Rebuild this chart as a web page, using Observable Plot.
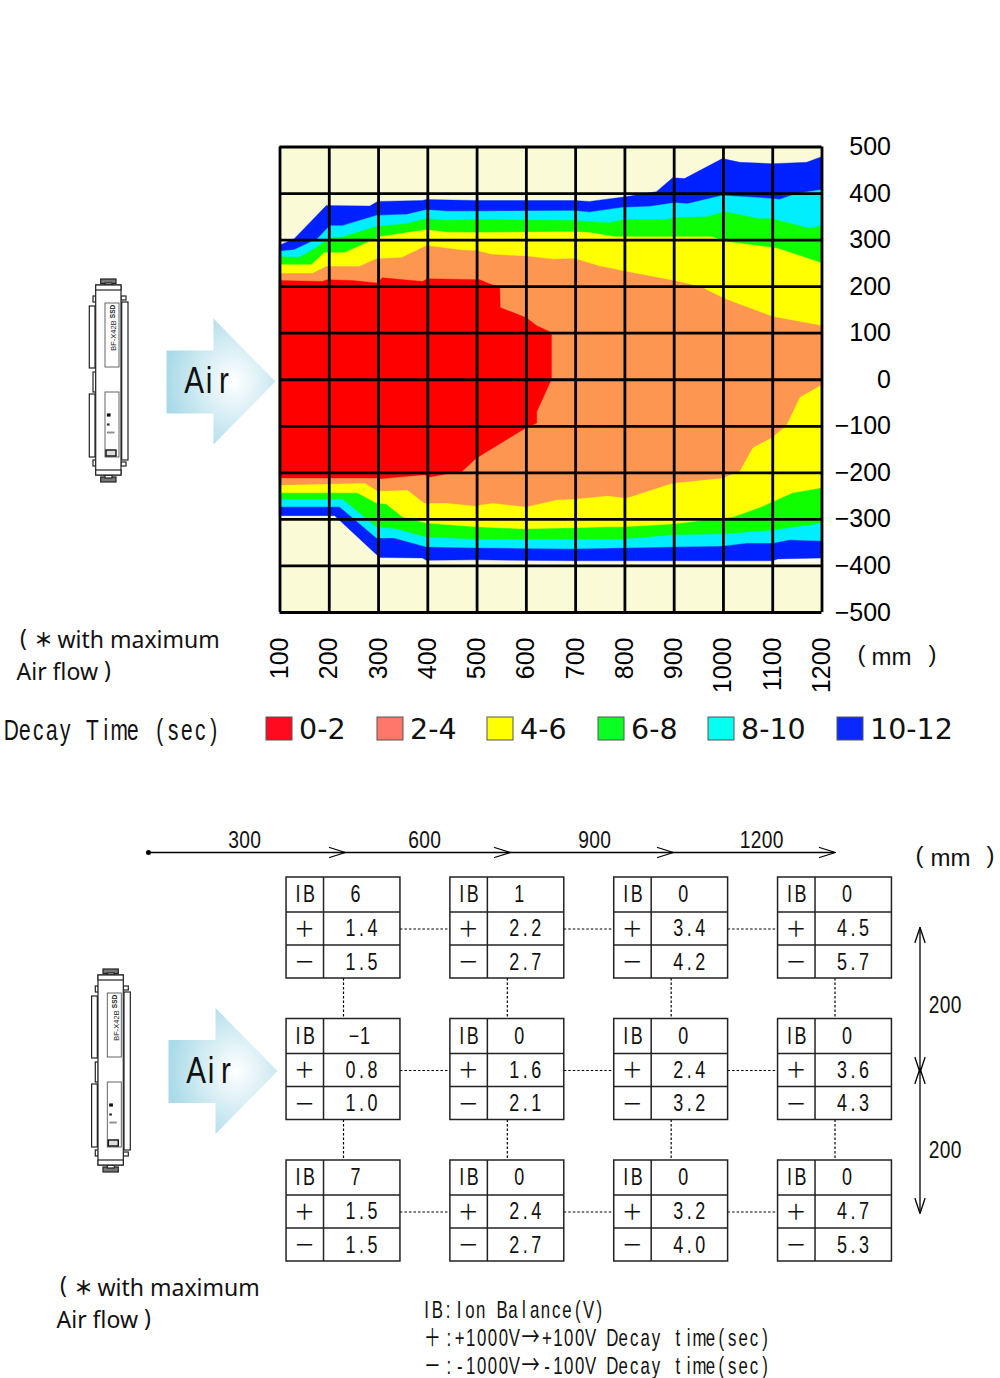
<!DOCTYPE html>
<html><head><meta charset="utf-8">
<script src="https://cdn.jsdelivr.net/npm/d3@7"></script>
<script src="https://cdn.jsdelivr.net/npm/@observablehq/plot@0.6"></script>
<style>
html,body{margin:0;padding:0;background:#fff}
#page{position:relative;width:1000px;height:1378px;overflow:hidden}
#page svg{position:absolute;left:0;top:0;background:none;overflow:visible;max-width:none}
</style></head><body><div id="page"></div>
<script>
// ---------- Contour boundaries: x in mm, y in mm ----------
const xTicks = [100,200,300,400,500,600,700,800,900,1000,1100,1200];
const yTicks = [500,400,300,200,100,0,-100,-200,-300,-400,-500];

const blueTopX = [100,130,195,283,299,390,398,500,699,729,802,865,898,922,999,1034,1101,1170,1200];
const blueTopY = [288,302,373,372,382,384,386,384,384,382,392,403,433,431,474,466,463,466,478];
const cyanTopX = [100,130,177,202,228,297,358,398,439,500,699,729,796,851,902,928,999,1101,1115,1150,1200];
const cyanTopY = [275,278,302,330,330,352,354,364,361,361,362,359,369,371,379,377,395,388,386,399,407];
const greenTopX = [100,141,175,202,226,297,358,398,439,500,699,750,770,800,885,902,969,1003,1074,1099,1176,1200];
const greenTopY = [263,262,283,304,305,328,334,345,341,343,341,337,336,343,343,347,349,360,345,345,324,330];
const yellowTopX = [100,165,191,232,283,303,398,439,500,699,729,780,977,1003,1099,1111,1200];
const yellowTopY = [246,246,272,272,296,306,321,316,315,317,315,306,306,296,283,281,250];
const orangeTopX = [100,167,195,262,297,348,398,471,500,530,601,654,699,750,800,898,953,1003,1101,1200];
const orangeTopY = [227,227,242,242,259,261,287,277,276,268,264,258,259,243,232,212,199,173,134,115];
const redTopX = [100,187,197,248,297,309,390,400,506,526,547,548,601,622,644,652,652];
const redTopY = [212,210,214,212,207,218,210,216,214,205,197,154,132,115,104,100,0];

const redLowX = [100,297,303,394,405,471,500,593,622,622,652];
const redLowY = [-212,-212,-214,-205,-210,-197,-169,-109,-94,-70,0];
const orangeLowX = [100,273,299,360,394,439,496,532,601,662,699,766,804,898,999,1034,1060,1101,1129,1156,1200];
const orangeLowY = [-227,-223,-240,-238,-266,-266,-272,-266,-274,-259,-257,-250,-255,-223,-212,-197,-147,-124,-98,-38,-12];
const yellowLowX = [100,258,297,317,350,398,500,593,699,764,796,898,979,1020,1078,1141,1200];
const yellowLowY = [-244,-244,-266,-268,-296,-309,-317,-321,-319,-317,-317,-311,-300,-296,-274,-244,-233];
const greenLowX = [100,228,297,337,398,500,796,898,999,1048,1101,1200];
const greenLowY = [-257,-257,-317,-321,-339,-343,-343,-334,-332,-328,-324,-309];
const cyanLowX = [100,222,297,333,398,500,689,800,898,999,1048,1101,1135,1200];
const cyanLowY = [-274,-274,-341,-341,-360,-362,-364,-362,-360,-358,-352,-352,-345,-347];
const blueLowX = [100,212,297,303,390,398,500,699,1101,1111,1200];
const blueLowY = [-293,-293,-377,-383,-384,-389,-388,-390,-390,-386,-384];
const haloLowX = [297,303,398,400,1100,1111,1200];
const haloLowY = [-377,-388,-389,-389,-391,-393,-392];
const haloTopX = [100,130];
const haloTopY = [296,312];

const colors = {cream:"#FAFBD6",blue:"#0021FF",cyan:"#00EEFF",green:"#10FF00",yellow:"#FFFF00",orange:"#FD9650",red:"#FF0000"};

// painter's order: each boundary fills toward the centre line
const layers = [
  [blueTopX,blueTopY,colors.blue],[blueLowX,blueLowY,colors.blue],
  [cyanTopX,cyanTopY,colors.cyan],[cyanLowX,cyanLowY,colors.cyan],
  [greenTopX,greenTopY,colors.green],[greenLowX,greenLowY,colors.green],
  [yellowTopX,yellowTopY,colors.yellow],[yellowLowX,yellowLowY,colors.yellow],
  [orangeTopX,orangeTopY,colors.orange],[orangeLowX,orangeLowY,colors.orange],
  [redTopX,redTopY,colors.red],[redLowX,redLowY,colors.red]
];
const areaOf = (xs,ys,fill) => Plot.areaY(xs,{x:xs,y1:0,y2:ys,fill,stroke:fill,strokeWidth:0.4});

// ---------- Legend ----------
const legendLabels = ["0-2","2-4","4-6","6-8","8-10","10-12"];
const legendColors = ["#FF0A1E","#FF766A","#FFFF00","#0AFF22","#05FFF0","#0A28FF"];
const legendSwatchX = [266,377,487,598,708,837];

// ---------- Measurement table ----------
const tableCols = [300,600,900,1200];
const tableRows = [200,0,-200];
const ibValues = [[6,1,0,0],[-1,0,0,0],[7,0,0,0]];
const plusValues = [[1.4,2.2,3.4,4.5],[0.8,1.6,2.4,3.6],[1.5,2.4,3.2,4.7]];
const minusValues = [[1.5,2.7,4.2,5.7],[1.0,2.1,3.2,4.3],[1.5,2.7,4.0,5.3]];
const axisStops = [{label:"300",at:345,tx:244},{label:"600",at:510,tx:424},{label:"900",at:673,tx:594},{label:"1200",at:835,tx:761}];
const noteLines = ["IB:Ion Balance(V)","＋:+1000V→+100V Decay time(sec)","－:-1000V→-100V Decay time(sec)"];

const SANS = '"Liberation Sans",Arial,sans-serif';
const NOTO = '"Noto Sans",sans-serif';
const CJK = '"Noto Sans CJK JP",sans-serif';
const GOTHIC = '"Liberation Sans","Noto Sans CJK JP",sans-serif';

const page = document.getElementById("page");
// lays each glyph of a text in an even cell and narrows it, like a half-width gothic face
function gothic(svg, cls, rows){
  const wide = c => "＋－→".includes(c);
  svg.querySelectorAll("."+cls+" text").forEach((t,i)=>{
    const r = rows[i], chars = [...r.t];
    const w = chars.map(c=>r.adv*(wide(c)?2:1));
    let pos = -d3.sum(w)/2;
    const xs = w.map(v=>{const m=pos+v/2; pos+=v; return (m/r.s).toFixed(2);});
    t.setAttribute("x",xs.join(" "));
    t.setAttribute("text-anchor","middle");
    t.setAttribute("transform",(t.getAttribute("transform")||"")+` scale(${r.s},1)`);
    if (r.t.includes("→")) {
      const [a,b] = r.t.split("→");
      t.textContent = "";
      t.append(a);
      const sp = document.createElementNS("http://www.w3.org/2000/svg","tspan");
      sp.setAttribute("font-family",CJK);
      sp.setAttribute("font-size","26");
      sp.textContent = "→";
      t.append(sp, b);
    }
  });
}

// ========== Contour plot ==========
const contour = Plot.plot({
  width:1000,height:700,marginLeft:279.5,marginRight:178.5,marginTop:146.5,marginBottom:88,
  style:{background:"none",overflow:"visible"},
  x:{domain:[100,1200],axis:null},
  y:{domain:[-500,500],axis:null},
  marks:[
    Plot.frame({fill:colors.cream,stroke:null}),
    Plot.areaY(haloTopX,{x:haloTopX,y1:0,y2:haloTopY,fill:"#fff"}),
    Plot.areaY(haloLowX,{x:haloLowX,y1:0,y2:haloLowY,fill:"#fff"}),
    ...layers.map(([a,b,c])=>areaOf(a,b,c)),
    Plot.ruleX(xTicks,{stroke:"#000",strokeWidth:2.8}),
    Plot.ruleY(yTicks,{stroke:"#000",strokeWidth:2.8}),
    Plot.axisX(xTicks,{anchor:"bottom",tickSize:0,tickPadding:25,tickRotate:-90,tickFormat:d=>String(d),fontSize:25,fontFamily:SANS,fill:"#000"}),
    Plot.axisY(yTicks,{anchor:"right",tickSize:0,tickPadding:69,textAnchor:"end",tickFormat:d3.format("d"),fontSize:25,fontFamily:SANS,fill:"#000"})
  ]
});
page.append(contour);

// ========== Table plot ==========
const kx = 900/492, ky = 400/283;
const cells = tableRows.flatMap((r,i)=>tableCols.map((c,j)=>({c,r,i,j})));
const cellText = cells.flatMap(d=>{
  const ib = String(ibValues[d.i][d.j]).replace("-","−");
  const p = plusValues[d.i][d.j].toFixed(1), m = minusValues[d.i][d.j].toFixed(1);
  return [
    {c:d.c,r:d.r,ox:-40,oy:-34,t:"IB",adv:11,s:.78},
    {c:d.c,r:d.r,ox:ib.length===1?12:16,oy:-34,t:ib,adv:11,s:.78},
    {c:d.c,r:d.r,ox:18,oy:0,t:p,adv:11,s:.78},
    {c:d.c,r:d.r,ox:18,oy:33.5,t:m,adv:11,s:.78}
  ];
});
const signs = cells.flatMap(d=>[{c:d.c,r:d.r,oy:0,t:"＋"},{c:d.c,r:d.r,oy:33.5,t:"－"}]);
const W = 57, TOP = 51.5, BOT = 49.5, DIV = 20;
const shifted = (rows,ox) => (index,scales,values,dims,ctx,next)=>next(index,scales,{...values,
  x:Float64Array.from(values.x,(v,i)=>v+(ox ?? rows[i].ox)),
  y:Float64Array.from(values.y,(v,i)=>v+rows[i].oy)},dims,ctx);
const table = Plot.plot({
  width:1000,height:1378,margin:0,
  style:{background:"none",overflow:"visible"},
  x:{domain:[300,1200],range:[343,834.5],axis:null},
  y:{domain:[200,-200],range:[928.5,1211.5],axis:null},
  marks:[
    // dotted connectors
    Plot.ruleY(tableRows.flatMap(r=>tableCols.slice(0,3).map(c=>({r,c}))),{y:"r",x1:d=>d.c+W*kx,x2:d=>d.c+300-W*kx,stroke:"#000",strokeWidth:1,strokeDasharray:"2.5,2"}),
    Plot.ruleX(tableRows.slice(0,2).flatMap(r=>tableCols.map(c=>({r,c}))),{x:"c",y1:d=>d.r-BOT*ky,y2:d=>d.r-200+TOP*ky,stroke:"#000",strokeWidth:1.2,strokeDasharray:"2.5,2"}),
    // boxes
    Plot.rect(cells,{x1:d=>d.c-W*kx,x2:d=>d.c+W*kx,y1:d=>d.r+TOP*ky,y2:d=>d.r-BOT*ky,stroke:"#222",strokeWidth:1.5,fill:"#fff"}),
    Plot.ruleY(cells,{y:d=>d.r+17*ky,x1:d=>d.c-W*kx,x2:d=>d.c+W*kx,stroke:"#222",strokeWidth:1.5}),
    Plot.ruleY(cells,{y:d=>d.r-16*ky,x1:d=>d.c-W*kx,x2:d=>d.c+W*kx,stroke:"#222",strokeWidth:1.5}),
    Plot.ruleX(cells,{x:d=>d.c-DIV*kx,y1:d=>d.r+TOP*ky,y2:d=>d.r-BOT*ky,stroke:"#222",strokeWidth:1.5}),
    Plot.text(cellText,{x:"c",y:"r",text:"t",className:"cellglyph",fontFamily:GOTHIC,fontSize:23,fill:"#111",render:shifted(cellText)}),
    Plot.text(signs,{x:"c",y:"r",text:"t",fontFamily:CJK,fontSize:21,fill:"#111",textAnchor:"middle",render:shifted(signs,-39)})
  ]
});
page.append(table);
gothic(table,"cellglyph",cellText);

// ========== Page annotations ==========
const arrowTop = [[166,350],[213,350],[213,318],[275,381],[213,444],[213,413],[166,413]];
const arrowLow = arrowTop.map(([x,y])=>[x+2,y+689.5]);
const defs = () => {
  const s = d3.create("svg:defs");
  const g = s.append("radialGradient").attr("id","airGlow").attr("cx","0.62").attr("cy","0.5").attr("r","0.62");
  g.append("stop").attr("offset","0%").attr("stop-color","#ffffff");
  g.append("stop").attr("offset","100%").attr("stop-color","#A9DAE8");
  return s.node();
};
function device(ox,oy){
  const R = (x1,y1,x2,y2,o={})=>({x1:x1+ox,y1:y1+oy,x2:x2+ox,y2:y2+oy,sw:1.2,st:"#222",...o});
  const parts = [
    R(100.7,279,116,283.5,{fill:"#777"}),R(100.7,477,116,482,{fill:"#777"}),
    R(105,283,112,285),R(105,475,112,478),
    R(89.3,306,95,368),R(89.3,394,95,457),R(121.7,302,128,460),
    R(93,296,96,302),R(93,372,96,392),R(93,460,96,466),R(121,296,126,300),R(121,462,126,466),
    R(95.7,285,121,475,{fill:"#fff"}),
    R(95.7,285,121,290),R(95.7,470,121,475),
    R(102.3,290,102.3,470,{sw:.8,st:"#666"}),
    R(102.3,380.5,121,380.5,{sw:1,st:"#999"}),
    R(105,303,119,367,{sw:.9,st:"#555"}),R(105,392,119,457,{sw:.9,st:"#555"}),
    R(106,450,116,456,{fill:"#ddd",sw:1.4,st:"#111"}),
    R(107.5,414,110,416,{fill:"#111",st:"#111"}),R(107.5,424,109,425,{st:"#333"}),R(107.5,432,114,433,{st:"#666",sw:.7}),
    R(113.5,357,113.5,364,{st:"#aaa",sw:1.4})
  ];
  return [
    Plot.rect(parts,{x1:"x1",y1:"y1",x2:"x2",y2:"y2",fill:d=>d.fill||"#fff",stroke:"st",strokeWidth:"sw"}),
    Plot.text([{t:"BF-X42B",x:113.5+ox,y:335+oy}],{x:"x",y:"y",text:"t",rotate:-90,fontFamily:SANS,fontSize:7.5,fill:"#222",textAnchor:"middle"}),
    Plot.text([{t:"SSD",x:112+ox,y:311+oy}],{x:"x",y:"y",text:"t",rotate:-90,fontFamily:SANS,fontSize:6.5,fontWeight:"bold",fill:"#222",textAnchor:"middle"})
  ];
}
const poly = pts => Plot.line(pts,{x:d=>d[0],y:d=>d[1],fill:"url(#airGlow)",stroke:"none"});
const airText = [{t:"Air",x:208.5,y:381,adv:15,s:.8},{t:"Air",x:210.5,y:1071,adv:15,s:.8}];
const monoText = [
  {t:"Decay Time (sec)",x:112,y:730,adv:13.5,s:.72,fs:29},
  {t:noteLines[0],x:512.5,y:1310,adv:10.8,s:.7,fs:24},
  {t:noteLines[1],x:595.5,y:1338,adv:10.9,s:.7,fs:24},
  {t:noteLines[2],x:595.5,y:1366,adv:10.9,s:.7,fs:24}
];
const noteParens = [{t:"(",x:23,y:638},{t:"(",x:63,y:1285},{t:")",x:107,y:670},{t:")",x:147,y:1318}];
const noteStars = [{t:"＊",x:43,y:640},{t:"＊",x:83,y:1288}];
const bodyText = [{t:"with maximum",x:57,y:640},{t:"Air flow",x:16,y:672},{t:"with maximum",x:97,y:1288},{t:"Air flow",x:56,y:1320}];
const unitText = [
  {t:"(",x:861,y:654},{t:"mm",x:891,y:657},{t:")",x:932,y:654},
  {t:"(",x:919,y:855},{t:"mm",x:950,y:858},{t:")",x:990,y:855}
];
const swatches = legendLabels.map((l,i)=>({l,c:legendColors[i],x:legendSwatchX[i]}));
const headPts = axisStops.flatMap(s=>[
  {g:s.label,x:s.at-16,y:847},{g:s.label,x:s.at,y:852},{g:s.label,x:s.at-16,y:857}]);
const axisLabels = axisStops.map(s=>({t:s.label,x:s.tx,y:840,adv:11,s:.8}));
const dimLabels = [{t:"200",x:944.5,y:1005,adv:11,s:.8},{t:"200",x:944.5,y:1150,adv:11,s:.8}];
const vLines = [{x:919.5,y1:927,y2:1072},{x:919.5,y1:1068,y2:1213}];
const vHeads = [[927,1],[1072,-1],[1068,1],[1213,-1]].flatMap(([y,s],i)=>[
  {g:i,x:914.5,y:y+s*15},{g:i,x:919.5,y},{g:i,x:924.5,y:y+s*15}]);

const overlay = Plot.plot({
  width:1000,height:1378,margin:0,
  style:{background:"none",overflow:"visible"},
  x:{type:"identity",axis:null},
  y:{type:"identity",axis:null},
  marks:[
    defs,
    poly(arrowTop),poly(arrowLow),
    Plot.text(airText,{x:"x",y:"y",text:"t",fontFamily:GOTHIC,fontSize:37,fill:"#111",className:"airglyph"}),
    ...device(0,0),...device(2.3,690),
    Plot.text(monoText,{x:"x",y:"y",text:"t",fontFamily:GOTHIC,fontSize:"fs",fill:"#111",className:"monoglyph"}),
    Plot.text(bodyText,{x:"x",y:"y",text:"t",fontFamily:NOTO,fontSize:23,fill:"#111",textAnchor:"start"}),
    Plot.text(noteParens,{x:"x",y:"y",text:"t",fontFamily:NOTO,fontSize:23,fill:"#111",textAnchor:"middle"}),
    Plot.text(noteStars,{x:"x",y:"y",text:"t",fontFamily:CJK,fontWeight:"bold",fontSize:19,fill:"#111",textAnchor:"middle"}),
    Plot.text(unitText,{x:"x",y:"y",text:"t",fontFamily:SANS,fontSize:24,fill:"#111",textAnchor:"middle"}),
    Plot.rect(swatches,{x1:"x",x2:d=>d.x+26,y1:717,y2:740,fill:"c",stroke:"#555",strokeWidth:1}),
    Plot.text(swatches,{x:d=>d.x+32.5,y:729,text:"l",fontFamily:'"DejaVu Sans",sans-serif',fontSize:28.5,fill:"#111",textAnchor:"start"}),
    // travel axis
    Plot.dot([{x:148,y:852}],{x:"x",y:"y",r:2.5,fill:"#000"}),
    Plot.ruleY([{y:852}],{y:"y",x1:148,x2:834,stroke:"#000",strokeWidth:1.3}),
    Plot.line(headPts,{x:"x",y:"y",z:"g",stroke:"#000",strokeWidth:1.3,fill:"none"}),
    Plot.text(axisLabels,{x:"x",y:"y",text:"t",fontFamily:GOTHIC,fontSize:24,fill:"#111",className:"axisglyph"}),
    // vertical dimension
    Plot.ruleX(vLines,{x:"x",y1:"y1",y2:"y2",stroke:"#000",strokeWidth:1.3}),
    Plot.line(vHeads,{x:"x",y:"y",z:"g",stroke:"#000",strokeWidth:1.3,fill:"none"}),
    Plot.text(dimLabels,{x:"x",y:"y",text:"t",fontFamily:GOTHIC,fontSize:24,fill:"#111",className:"dimglyph"})
  ]
});
page.append(overlay);
gothic(overlay,"airglyph",airText);
gothic(overlay,"monoglyph",monoText);
gothic(overlay,"axisglyph",axisLabels);
gothic(overlay,"dimglyph",dimLabels);
</script></body></html>
